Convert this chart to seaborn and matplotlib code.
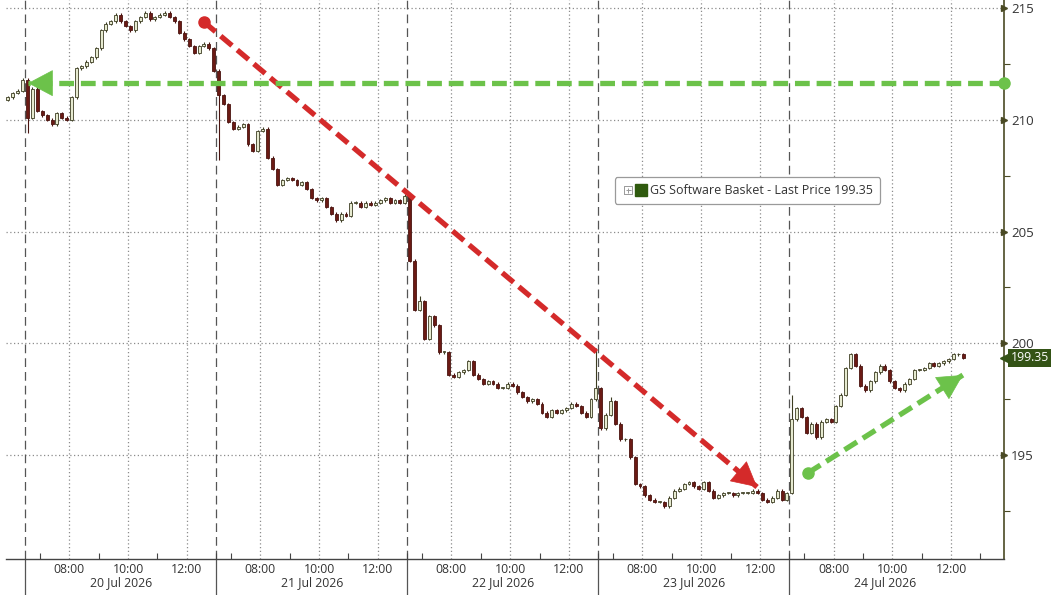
import numpy as np
import pandas as pd
import seaborn as sns
import matplotlib.pyplot as plt
from matplotlib.lines import Line2D
from matplotlib.path import Path
from matplotlib.legend_handler import HandlerTuple

# ---- data: 10-minute closes, session 06:30-13:00 ----
day_labels = ["20 Jul 2026", "21 Jul 2026", "22 Jul 2026", "23 Jul 2026", "24 Jul 2026"]
time_labels = ["08:00", "10:00", "12:00"]
y_ticks = [195, 200, 205, 210, 215]

pre_open = 210.9
pre_close = [211.0, 211.2, 211.3, 211.8]

close_jul20 = [210.1, 211.4, 210.4, 210.2, 210.0, 209.8, 210.3, 210.1, 210.0, 211.0,
               212.3, 212.4, 212.6, 212.8, 213.2, 214.0, 214.3, 214.4, 214.7, 214.4,
               214.2, 214.0, 214.4, 214.6, 214.8, 214.5, 214.6, 214.7, 214.8, 214.6,
               214.4, 213.9, 213.6, 213.3, 213.0, 213.3, 213.4, 213.2, 212.2]
close_jul21 = [211.1, 210.7, 209.9, 209.6, 209.7, 209.8, 208.9, 208.6, 209.5, 209.6,
               208.3, 207.8, 207.1, 207.3, 207.4, 207.3, 207.1, 207.2, 206.9, 206.5,
               206.4, 206.5, 206.1, 205.8, 205.5, 205.8, 205.7, 206.3, 206.3, 206.1,
               206.3, 206.2, 206.3, 206.4, 206.5, 206.3, 206.4, 206.3, 206.6]
close_jul22 = [203.7, 201.5, 201.9, 200.2, 201.2, 200.8, 199.6, 199.6, 198.6, 198.5,
               198.7, 198.8, 199.2, 198.6, 198.4, 198.2, 198.3, 198.2, 198.0, 198.0,
               198.2, 198.1, 197.8, 197.6, 197.4, 197.5, 197.3, 196.9, 196.7, 197.0,
               196.9, 197.0, 197.1, 197.3, 197.2, 196.9, 196.7, 197.5, 198.0]
close_jul23 = [196.2, 196.8, 197.4, 196.4, 195.7, 195.7, 194.9, 193.7, 193.6, 193.2,
               193.0, 192.9, 192.9, 192.7, 193.1, 193.4, 193.5, 193.7, 193.8, 193.6,
               193.5, 193.8, 193.4, 193.1, 193.2, 193.3, 193.3, 193.2, 193.3, 193.3,
               193.3, 193.4, 193.3, 193.0, 192.9, 193.1, 193.4, 193.0, 193.3]
close_jul24 = [196.6, 197.1, 196.7, 196.0, 196.4, 195.8, 196.5, 196.6, 196.5, 197.2,
               197.7, 198.9, 199.5, 199.0, 198.1, 197.9, 198.3, 198.7, 199.0, 198.8,
               198.3, 198.0, 197.9, 198.2, 198.4, 198.8, 198.8, 198.9, 199.1, 199.0,
               199.1, 199.2, 199.3, 199.5, 199.5, 199.35]
day_closes = [close_jul20, close_jul21, close_jul22, close_jul23, close_jul24]

# notable wick extremes: (day, bar, price)
wick_extremes = [(0, 0, 209.4), (1, 0, 208.2), (2, 2, 202.1), (2, 38, 199.8),
                 (3, 2, 197.6), (4, 0, 197.7)]

last_price = 199.35
series_name = "GS Software Basket - Last Price"

# arrows (session hours, price)
red_arrow = [(6.09, 214.37), (24.9, 193.57)]
green_flat = [(33.3, 211.64), (0.1, 211.64)]
green_up = [(26.63, 194.2), (31.9, 198.58)]

DAY = 6.5
BAR = 1 / 6

# ---- build bar table ----
rows = []
prev = pre_open
n_pre = len(pre_close)
for i, c in enumerate(pre_close):
    rows.append(dict(day=-1, bar=i, x=-(n_pre - i - 0.5) * BAR, open=prev, close=c))
    prev = c
for d, closes in enumerate(day_closes):
    for i, c in enumerate(closes):
        rows.append(dict(day=d, bar=i, x=d * DAY + (i + 0.5) * BAR, open=prev, close=c))
        prev = c
bars = pd.DataFrame(rows)
bars["high"] = bars[["open", "close"]].max(axis=1) + 0.06
bars["low"] = bars[["open", "close"]].min(axis=1) - 0.06
for d, b, p in wick_extremes:
    m = (bars.day == d) & (bars.bar == b)
    if p > bars.loc[m, "high"].iloc[0]:
        bars.loc[m, "high"] = p
    else:
        bars.loc[m, "low"] = p
bars["up"] = bars.close >= bars.open

# ---- figure ----
sns.set_theme(style="white")
plt.rcParams["font.family"] = ["Open Sans", "DejaVu Sans"]

fig = plt.figure(figsize=(10.53, 5.95), dpi=100)
ax = fig.add_axes([6 / 1053, 36 / 595, 998 / 1053, 559 / 595])
ax.set_xlim(-0.65, 33.3)
ax.set_ylim(190.35, 215.36)

grid_c = "#8c8c8c"
for y in y_ticks:
    ax.axhline(y, color=grid_c, ls=(0, (1, 2)), lw=0.9, zorder=0)
for d in range(5):
    for h in (1.5, 3.5, 5.5):
        ax.axvline(d * DAY + h, color=grid_c, ls=(0, (1, 2)), lw=0.9, zorder=0)
    ax.axvline(d * DAY, color="#555555", ls=(0, (7, 4)), lw=0.9, zorder=0)
    ax.plot([d * DAY, d * DAY], [0, -0.07], transform=ax.get_xaxis_transform(),
            color="#555555", lw=0.9, clip_on=False)

# candles
up = bars[bars.up]
dn = bars[~bars.up]
ax.vlines(up.x, up.low, up.high, color="#3d3d22", lw=0.8, zorder=2)
ax.vlines(dn.x, dn.low, dn.high, color="#4a1410", lw=0.8, zorder=2)
body_w = 0.1
ax.bar(up.x, np.maximum(up.close - up.open, 0.04), bottom=up.open, width=body_w,
       color="#e6ead0", edgecolor="#3d3d22", lw=0.6, zorder=3)
ax.bar(dn.x, np.maximum(dn.open - dn.close, 0.04), bottom=dn.close, width=body_w,
       color="#6b1a14", edgecolor="#4a1410", lw=0.6, zorder=3)


def dashed_arrow(pts, color, start_dot=True):
    (x0, y0), (x1, y1) = pts
    ax.plot([x0, x1], [y0, y1], color=color, lw=3.8, ls=(0, (2.8, 1.3)),
            dash_capstyle="butt", zorder=5, clip_on=False)
    if start_dot:
        ax.plot([x0], [y0], "o", color=color, ms=8, zorder=6, clip_on=False)
    bx = x1 - (x1 - x0) * 0.02
    by = y1 - (y1 - y0) * 0.02
    ax.annotate("", xy=(x1, y1), xytext=(bx, by),
                arrowprops=dict(arrowstyle="-|>,head_length=0.85,head_width=0.45",
                                color=color, lw=0.5, shrinkA=0, shrinkB=0,
                                mutation_scale=20), zorder=6)


red = "#d42a2a"
green = "#6cc24a"
dashed_arrow(red_arrow, red)
dashed_arrow(green_flat, green)
dashed_arrow(green_up, green)

# axes / spines
for s in ("left", "top"):
    ax.spines[s].set_visible(False)
ax.spines["bottom"].set_color("#444444")
ax.spines["bottom"].set_linewidth(1.0)
ax.spines["right"].set_color("#4a4a24")
ax.spines["right"].set_linewidth(1.2)

xt, xl, xm = [], [], []
for d in range(5):
    for h, lab in zip((1.5, 3.5, 5.5), time_labels):
        xt.append(d * DAY + h)
        xl.append(lab)
    xm += [d * DAY + h for h in (0.5, 2.5, 4.5, 6.5)]
ax.set_xticks(xt, xl)
ax.set_xticks(xm, minor=True)
ax.tick_params(axis="x", which="major", length=0, pad=3, labelsize=8.8, labelcolor="#333333")
ax.tick_params(axis="x", which="minor", direction="in", length=4, width=0.8, color="#444444",
               bottom=True)
for d, lab in enumerate(day_labels):
    ax.text(d * DAY + DAY / 2, -0.042, lab, transform=ax.get_xaxis_transform(),
            ha="center", va="center", fontsize=8.8, color="#333333")

ax.yaxis.tick_right()
ax.set_yticks(y_ticks, [str(v) for v in y_ticks])
ax.set_yticks(np.arange(192.5, 215, 5), minor=True)
ax.tick_params(axis="y", which="major", length=0, pad=5, labelsize=9.5, labelcolor="#333333")
ax.tick_params(axis="y", which="minor", right=True, direction="out", length=4, width=0.8,
               color="#4a4a24")
ytr = ax.get_yaxis_transform()
ax.plot([1.0] * len(y_ticks), y_ticks, ">", ms=5, color="#4a4a24", transform=ytr,
        clip_on=False, zorder=7)

# last price tag
ax.plot([1.0035], [last_price], "<", ms=10, color="#345316", transform=ytr, clip_on=False, zorder=8)
ax.text(1.0065, last_price, f"{last_price:.2f}", transform=ytr, ha="left", va="center",
        fontsize=8.8, color="white", zorder=9,
        bbox=dict(boxstyle="square,pad=0.18", fc="#345316", ec="none"))

# legend with a small box-plus glyph ahead of the colour swatch
boxplus = Path([(-1, -1), (1, -1), (1, 1), (-1, 1), (-1, -1),
                (0, -0.6), (0, 0.6), (-0.6, 0), (0.6, 0)],
               [Path.MOVETO, Path.LINETO, Path.LINETO, Path.LINETO, Path.LINETO,
                Path.MOVETO, Path.LINETO, Path.MOVETO, Path.LINETO])
h_plus = Line2D([], [], marker=boxplus, ls="none", ms=6, mfc="none", mec="#999999", mew=0.7)
h_sq = Line2D([], [], marker="s", color="#2f5a0e", ls="none", ms=8.5)
leg = ax.legend(handles=[(h_plus, h_sq)], labels=[f"{series_name} {last_price:.2f}"],
                handler_map={tuple: HandlerTuple(ndivide=None, pad=0.05)},
                loc="center", bbox_to_anchor=(0.743, 0.659), fontsize=9,
                frameon=True, fancybox=True, handlelength=2.0, handletextpad=0.3,
                borderpad=0.55, framealpha=1)
leg.get_frame().set_edgecolor("#9a9a9a")
leg.get_frame().set_linewidth(0.9)
for t in leg.get_texts():
    t.set_color("#333333")

fig.savefig("out.png", dpi=100)
